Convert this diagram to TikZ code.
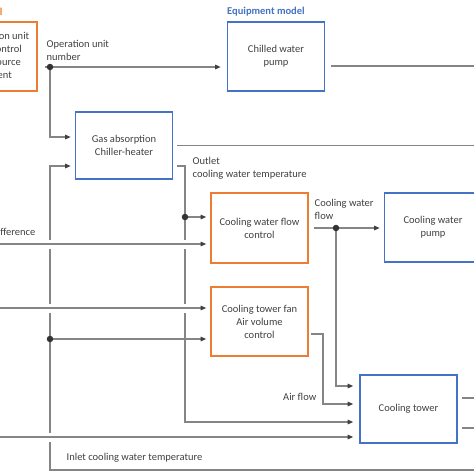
\documentclass[tikz,border=0pt]{standalone}
\usepackage{fontspec}
\setmainfont{Carlito}
\usetikzlibrary{arrows.meta,backgrounds}
\definecolor{orng}{HTML}{ED7D31}
\definecolor{blu}{HTML}{4472C4}
\definecolor{txt}{HTML}{404040}
\definecolor{ln}{HTML}{858585}
\definecolor{dotc}{HTML}{333333}
\begin{document}
\begin{tikzpicture}[x=1pt,y=-1pt,
  font=\fontsize{10.5}{13}\selectfont, text=txt,
  box/.style={draw, line width=1.6pt, minimum width=97pt, minimum height=69pt, align=center, inner sep=0pt},
  ob/.style={box, draw=orng},
  bb/.style={box, draw=blu},
  wire/.style={draw=ln, line width=1.1pt},
  arr/.style={wire, -{Triangle[length=5.5pt,width=4.5pt,color=txt]}, shorten >=4pt},
  halo/.style={preaction={draw=white, line width=9pt, -}},
  dot/.style={circle, fill=dotc, inner sep=0pt, minimum size=6.5pt},
  lbl/.style={inner sep=0pt, align=left},
  ttl/.style={inner sep=0pt, anchor=west, font=\fontsize{10.5}{13}\selectfont\bfseries}]
\useasboundingbox (0,0) rectangle (474,474);
\clip (0,0) rectangle (474,474);

% boxes
\node[ob] (ctrl) at (-11.5,56.5) {Determination unit\\number control\\for heat source\\equipment};
\node[bb] (chp) at (276,56.5) {Chilled water\\pump};
\node[bb, minimum height=67pt] (gas) at (124,145.5) {Gas absorption\\Chiller-heater};
\node[ob, minimum height=70pt] (cwf) at (259.5,228) {Cooling water flow\\control};
\node[ob] (ctf) at (259.5,321.5) {Cooling tower fan\\Air volume\\control};
\node[bb] (cwp) at (433,227.5) {Cooling water\\pump};
\node[bb, minimum height=68pt] (ct) at (408.5,409) {Cooling tower};

% titles
\node[ttl, text=orng] (t1) at (-60,12) {Control model};
\node[ttl, text=blu] (t2) at (227,12) {Equipment model};

% labels
\node[lbl, anchor=west] (l1) at (46.5,50.5) {Operation unit\\number};
\node[lbl, anchor=west] (l2) at (192.5,168.5) {Outlet\\cooling water temperature};
\node[lbl, anchor=west] (l3) at (314.5,209.5) {Cooling water\\flow};
\node[lbl, anchor=east] (l4) at (316.5,397) {Air flow};
\node[lbl, anchor=west] (l5) at (66.5,458) {Inlet cooling water temperature};
\node[lbl, anchor=east] (l6) at (35.5,233) {Temperature difference};

% junctions and free ends
\coordinate (d1) at (50,67);
\coordinate (d2) at (185,217);
\coordinate (d3) at (336,228);
\coordinate (d4) at (50,339);
\coordinate (eR) at (480,0);
\coordinate (eL) at (-5,0);

\begin{pgfonlayer}{background}
% operation unit number
\draw[wire, shorten <=7pt] (ctrl.east |- d1) -- (d1);
\draw[arr, shorten >=6pt] (d1) -- (chp.west |- d1);
\draw[arr] (d1) |- (gas.west |- 0,137);
% outputs to the right
\draw[wire, shorten <=6pt] (chp.east |- 0,66) -- (eR |- 0,66);
\draw[wire, shorten <=4pt] (gas.east) -- (eR |- gas.east);
% outlet cooling water temperature
\draw[arr, shorten <=4pt, shorten >=6pt] (gas.east |- 0,166) -| (d2) |- (ct.west |- 0,422);
\draw[arr] (d2) -- (cwf.west |- d2);
% cooling water flow
\draw[arr, shorten <=5pt] (cwf.east |- d3) -- (cwp.west |- d3);
\draw[arr, shorten >=6pt] (d3) |- (ct.west |- 0,386);
% air flow
\draw[arr, shorten <=2pt, shorten >=6pt] (ctf.east |- 0,334) -- (323,334) |- (ct.west |- 0,404);
% inlet cooling water temperature
\draw[arr] (eR |- 0,470) -| (d4) |- (gas.west |- 0,166);
\draw[arr] (d4) -- (ctf.west |- d4);
% inputs from the left
\draw[arr, halo] (eL |- 0,244) -- (cwf.west |- 0,244);
\draw[arr, halo] (eL |- 0,308) -- (ctf.west |- 0,308);
\draw[arr, halo, shorten >=6pt] (eL |- 0,437) -- (ct.west |- 0,437);
% cooling tower outputs
\draw[wire, shorten <=4pt] (ct.east |- 0,398) -- (eR |- 0,398);
\draw[wire, shorten <=4pt] (ct.east |- 0,428) -- (eR |- 0,428);
\end{pgfonlayer}

% junction dots
\node[dot] (j1) at (d1) {};
\node[dot] (j2) at (d2) {};
\node[dot] (j3) at (d3) {};
\node[dot] (j4) at (d4) {};
\end{tikzpicture}
\end{document}
